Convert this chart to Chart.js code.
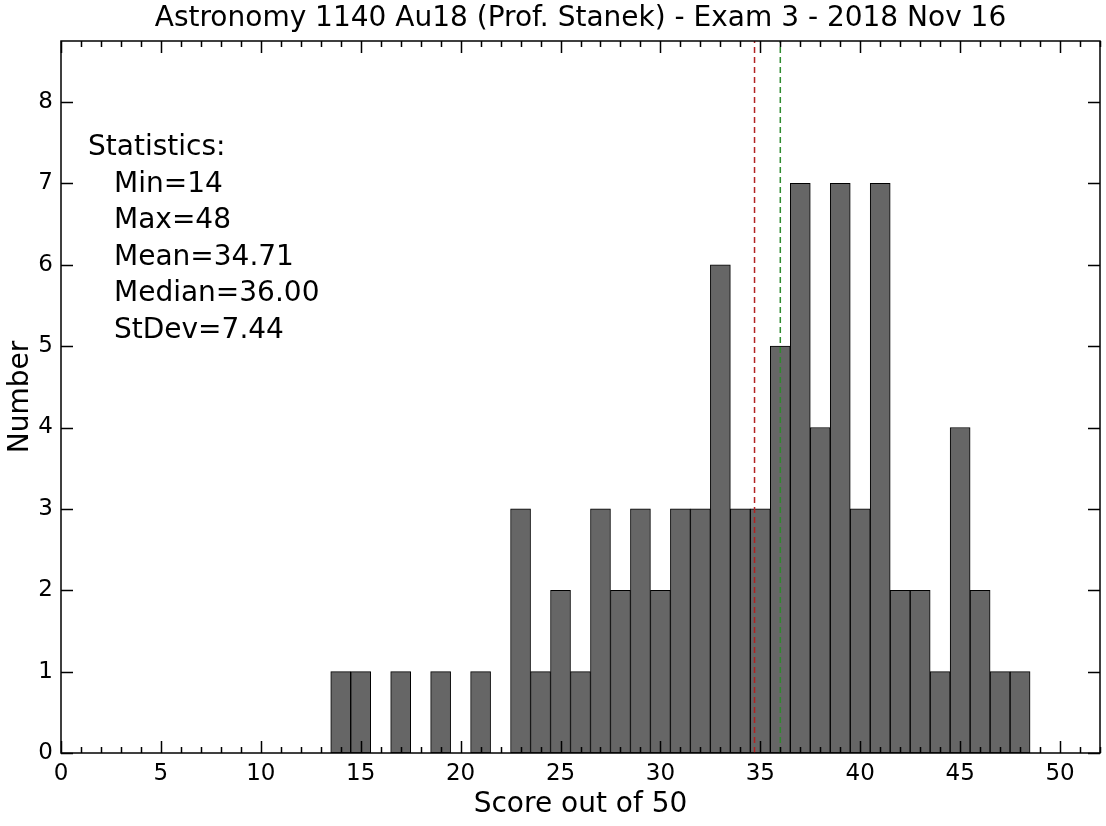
<!DOCTYPE html>
<html>
<head>
<meta charset="utf-8">
<title>Exam 3 histogram</title>
<script src="https://cdn.jsdelivr.net/npm/chart.js@4.4.0/dist/chart.umd.min.js"></script>
<style>
    html, body { margin: 0; padding: 0; background: #fff; }
    #wrap { width: 1106px; height: 826px; }
</style>
</head>
<body>
<div id="wrap"><canvas id="hist"></canvas></div>
<script>
// scores (bin centres) and how many students got each one
const scores = [14, 15, 16, 17, 18, 19, 20, 21, 22, 23, 24, 25, 26, 27, 28, 29, 30,
                31, 32, 33, 34, 35, 36, 37, 38, 39, 40, 41, 42, 43, 44, 45, 46, 47, 48];
const counts = [1, 1, 0, 1, 0, 1, 0, 1, 0, 3, 1, 2, 1, 3, 2, 3, 2,
                3, 3, 6, 3, 3, 5, 7, 4, 7, 3, 7, 2, 2, 1, 4, 2, 1, 1];

const MEAN = 34.71;
const MEDIAN = 36.00;
const statsLines = ['Statistics:', 'Min=14', 'Max=48', 'Mean=34.71', 'Median=36.00', 'StDev=7.44'];

const X_MIN = 0, X_MAX = 52;
const Y_MIN = 0, Y_MAX = 8.75;
const xTicks = [0, 5, 10, 15, 20, 25, 30, 35, 40, 45, 50];
const yTicks = [0, 1, 2, 3, 4, 5, 6, 7, 8];

const FONT = "'DejaVu Sans', sans-serif";

/**
 * Inward matplotlib-style ticks, full frame and the statistics box
 */
const framePlugin = {
    id: 'frame',
    afterDraw(chart) {
        const { ctx, chartArea: a, scales } = chart;
        const x = scales.x, y = scales.y;
        ctx.save();
        ctx.strokeStyle = '#000';
        ctx.lineWidth = 1.5;

        // x ticks: minor every 1, major every 5, top and bottom
        for (let v = X_MIN; v <= X_MAX; v++) {
            const px = Math.round(x.getPixelForValue(v)) + 0.5;
            const len = (v % 5 === 0) ? 12 : 6;
            ctx.beginPath();
            ctx.moveTo(px, a.bottom);
            ctx.lineTo(px, a.bottom - len);
            ctx.moveTo(px, a.top);
            ctx.lineTo(px, a.top + len);
            ctx.stroke();
        }
        // y ticks: major only, left and right
        yTicks.forEach(v => {
            const py = Math.round(y.getPixelForValue(v)) + 0.5;
            ctx.beginPath();
            ctx.moveTo(a.left, py);
            ctx.lineTo(a.left + 12, py);
            ctx.moveTo(a.right, py);
            ctx.lineTo(a.right - 12, py);
            ctx.stroke();
        });

        // frame
        ctx.strokeRect(a.left, a.top, a.right - a.left, a.bottom - a.top);

        // statistics text
        ctx.fillStyle = '#000';
        ctx.font = '28px ' + FONT;
        ctx.textBaseline = 'alphabetic';
        ctx.textAlign = 'left';
        statsLines.forEach((line, i) => {
            const tx = a.left + (i === 0 ? 27 : 53);
            ctx.fillText(line, tx, a.top + 114 + i * 36.6);
        });
        ctx.restore();
    }
};

const ctxEl = document.getElementById('hist');

new Chart(ctxEl, {
    type: 'bar',
    data: {
        datasets: [
            {
                type: 'line',
                label: 'Mean',
                data: [{ x: MEAN, y: Y_MIN }, { x: MEAN, y: Y_MAX }],
                borderColor: '#b22222',
                borderWidth: 1.5,
                borderDash: [6, 4],
                pointRadius: 0,
                order: 0
            },
            {
                type: 'line',
                label: 'Median',
                data: [{ x: MEDIAN, y: Y_MIN }, { x: MEDIAN, y: Y_MAX }],
                borderColor: '#2e8b2e',
                borderWidth: 1.5,
                borderDash: [6, 4],
                pointRadius: 0,
                order: 0
            },
            {
                label: 'Number',
                data: scores.map((s, i) => ({ x: s, y: counts[i] })),
                backgroundColor: '#666666',
                borderColor: '#000000',
                borderWidth: 1,
                borderSkipped: false,
                barPercentage: 1,
                categoryPercentage: 1,
                order: 1
            }
        ]
    },
    options: {
        responsive: true,
        maintainAspectRatio: false,
        animation: false,
        layout: { padding: { left: 0, right: 6, top: 0, bottom: 0 } },
        scales: {
            x: {
                type: 'linear',
                min: X_MIN,
                max: X_MAX,
                offset: false,
                grid: { display: false, drawTicks: false },
                border: { display: false },
                afterBuildTicks(scale) {
                    scale.ticks = xTicks.map(v => ({ value: v }));
                },
                afterFit(scale) { scale.height = 73; },
                ticks: {
                    color: '#000',
                    padding: 7,
                    maxRotation: 0,
                    font: { family: FONT, size: 23 }
                },
                title: {
                    display: true,
                    text: 'Score out of 50',
                    color: '#000',
                    font: { family: FONT, size: 28 },
                    padding: { top: 0, bottom: 4 }
                }
            },
            y: {
                min: Y_MIN,
                max: Y_MAX,
                grid: { display: false, drawTicks: false },
                border: { display: false },
                afterBuildTicks(scale) {
                    scale.ticks = yTicks.map(v => ({ value: v }));
                },
                afterFit(scale) { scale.width = 61; },
                ticks: {
                    color: '#000',
                    padding: 8,
                    font: { family: FONT, size: 23 }
                },
                title: {
                    display: true,
                    text: 'Number',
                    color: '#000',
                    font: { family: FONT, size: 28 },
                    padding: { top: 4, bottom: 0 }
                }
            }
        },
        plugins: {
            legend: { display: false },
            tooltip: { enabled: false },
            title: {
                display: true,
                fullSize: false,
                text: 'Astronomy 1140 Au18 (Prof. Stanek) - Exam 3 - 2018 Nov 16',
                color: '#000',
                font: { family: FONT, size: 28, weight: 'normal' },
                padding: { top: 2, bottom: 5.4 }
            }
        }
    },
    plugins: [framePlugin]
});
</script>
</body>
</html>
